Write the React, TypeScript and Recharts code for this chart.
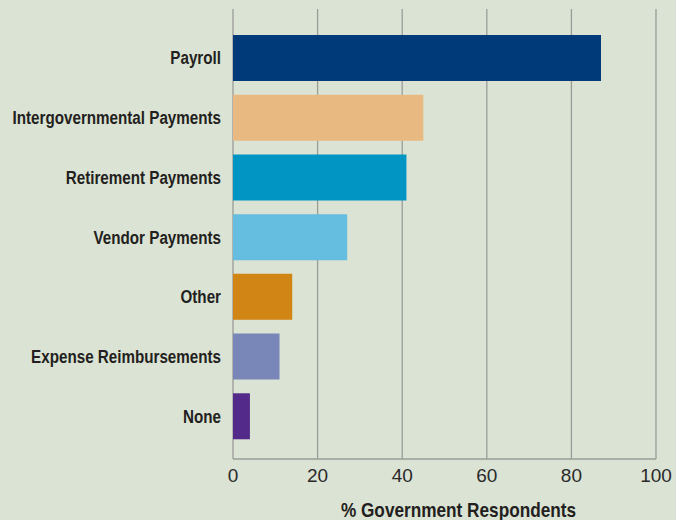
import { BarChart, Bar, XAxis, YAxis, CartesianGrid, Cell, Label } from 'recharts'

const categories = [
  'Payroll',
  'Intergovernmental Payments',
  'Retirement Payments',
  'Vendor Payments',
  'Other',
  'Expense Reimbursements',
  'None',
]
const values = [87, 45, 41, 27, 14, 11, 4]
const barColors = ['#003a78', '#e8ba82', '#0095c2', '#65bde0', '#d08515', '#7887b8', '#532a8a']
const xTicks = [0, 20, 40, 60, 80, 100]

const data = categories.map((name, i) => ({ name, value: values[i] }))

const sans = "'Liberation Sans', Arial, sans-serif"
const gridColor = '#9a9c98'

// no condensed face installed, so squeeze the bold sans horizontally
function CategoryTick(props: any) {
  const { x, y, payload } = props
  return (
    <text
      transform={`translate(${x}, ${y}) scale(0.8, 1)`}
      textAnchor="end"
      dominantBaseline="central"
      fontFamily={sans}
      fontWeight="bold"
      fontSize={19}
      fill="#231f20"
    >
      {payload.value}
    </text>
  )
}

function AxisTitle(props: any) {
  const vb = props.viewBox || {}
  const cx = (vb.x ?? 0) + (vb.width ?? 0) / 2 + 14
  const cy = (vb.y ?? 0) + (vb.height ?? 0) - 10
  return (
    <text
      transform={`translate(${cx}, ${cy}) scale(0.82, 1)`}
      textAnchor="middle"
      dominantBaseline="central"
      fontFamily={sans}
      fontWeight="bold"
      fontSize={21}
      fill="#231f20"
    >
      % Government Respondents
    </text>
  )
}

export default function App() {
  return (
    <div style={{ position: 'fixed', left: 0, top: 0, width: 676, height: 520, background: '#dbe3d4' }}>
      <BarChart
        width={676}
        height={520}
        data={data}
        layout="vertical"
        margin={{ top: 9, right: 20, bottom: 0, left: 0 }}
        barCategoryGap={0}
      >
        <CartesianGrid horizontal={false} stroke={gridColor} strokeWidth={1.3} />
        <XAxis
          type="number"
          domain={[0, 100]}
          ticks={xTicks}
          height={61}
          axisLine={{ stroke: gridColor, strokeWidth: 1.3 }}
          tickLine={false}
          tick={{ fontSize: 19, fill: '#2a2a2a', fontFamily: sans, dy: 2 }}
        >
          <Label content={(p: any) => <AxisTitle {...p} />} />
        </XAxis>
        <YAxis
          type="category"
          dataKey="name"
          width={233}
          padding={{ top: 19, bottom: 13 }}
          axisLine={false}
          tickLine={false}
          tickMargin={6}
          tick={<CategoryTick />}
        />
        <Bar dataKey="value" barSize={46} isAnimationActive={false}>
          {data.map((d, i) => (
            <Cell key={d.name} fill={barColors[i]} />
          ))}
        </Bar>
      </BarChart>
    </div>
  )
}
